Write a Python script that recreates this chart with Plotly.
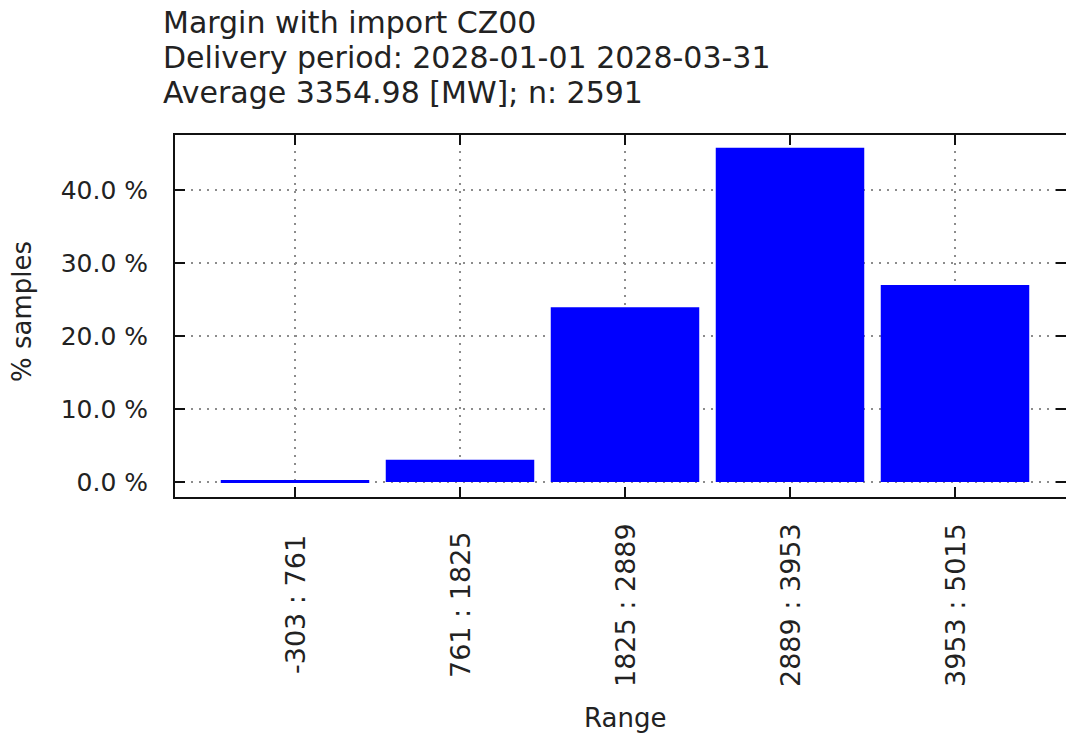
import plotly.graph_objects as go

categories = ["-303 : 761", "761 : 1825", "1825 : 2889", "2889 : 3953", "3953 : 5015"]
percent_samples = [0.27, 3.05, 23.93, 45.77, 26.98]
y_tick_values = [0, 10, 20, 30, 40]
y_tick_labels = ["0.0 %", "10.0 %", "20.0 %", "30.0 %", "40.0 %"]
title_lines = [
    "Margin with import CZ00",
    "Delivery period: 2028-01-01 2028-03-31",
    "Average 3354.98 [MW]; n: 2591",
]
x_title = "Range"
y_title = "% samples"

FONT = "DejaVu Sans"
TXT = "#222222"

W, H = 1066, 737
ml, mr, mt, mb = 175, 0, 135, 240
pw, ph = W - ml - mr, H - mt - mb

fig = go.Figure()
fig.add_trace(go.Bar(
    x=categories, y=percent_samples, width=0.9,
    marker=dict(color="#0000ff", line=dict(width=0)),
))

axis_common = dict(
    showline=True, linecolor="#111111", linewidth=2, mirror="ticks",
    ticks="inside", ticklen=10, tickwidth=1.5, tickcolor="#111111",
    showgrid=True, gridcolor="#8c8c8c", griddash="2px,6px", gridwidth=1.5,
    zeroline=False,
)

fig.update_layout(
    width=W, height=H,
    margin=dict(l=ml, r=mr, t=mt, b=mb, autoexpand=False),
    paper_bgcolor="white", plot_bgcolor="white",
    font=dict(family=FONT, color=TXT, size=26),
    showlegend=False,
    xaxis=dict(type="category", range=[-0.7273, 4.6727], showticklabels=False,
               **axis_common),
    yaxis=dict(range=[-2.05, 47.5], tickvals=y_tick_values, ticktext=y_tick_labels,
               tickfont=dict(size=25), ticklabelstandoff=20,
               **axis_common),
)

# rotated category labels, centred at y = 605 px
for c in categories:
    fig.add_annotation(x=c, xref="x", y=0, yref="paper", yshift=-(605 - (mt + ph)),
                       text=c, textangle=-90, showarrow=False,
                       xanchor="center", yanchor="middle",
                       font=dict(size=27, color=TXT))

# x-axis title
fig.add_annotation(x=(625 - ml) / pw, xref="paper", y=0, yref="paper",
                   yshift=-(718 - (mt + ph)), text=x_title, showarrow=False,
                   xanchor="center", yanchor="middle", font=dict(size=26, color=TXT))

# y-axis title
fig.add_annotation(x=(22 - ml) / pw, xref="paper", y=1 - (312 - mt) / ph, yref="paper",
                   text=y_title, textangle=-90, showarrow=False,
                   xanchor="center", yanchor="middle", font=dict(size=26, color=TXT))

# three-line title
for line, yc in zip(title_lines, [23, 57, 92]):
    fig.add_annotation(x=(161 - ml) / pw, xref="paper", y=1 + (mt - yc) / ph, yref="paper",
                       text=line, showarrow=False, xanchor="left", yanchor="middle",
                       font=dict(size=30, color=TXT))

fig.write_html(
    "out.html",
    config={"displayModeBar": False},
    post_script="document.body.style.margin='0px';document.body.style.overflow='hidden';",
)
